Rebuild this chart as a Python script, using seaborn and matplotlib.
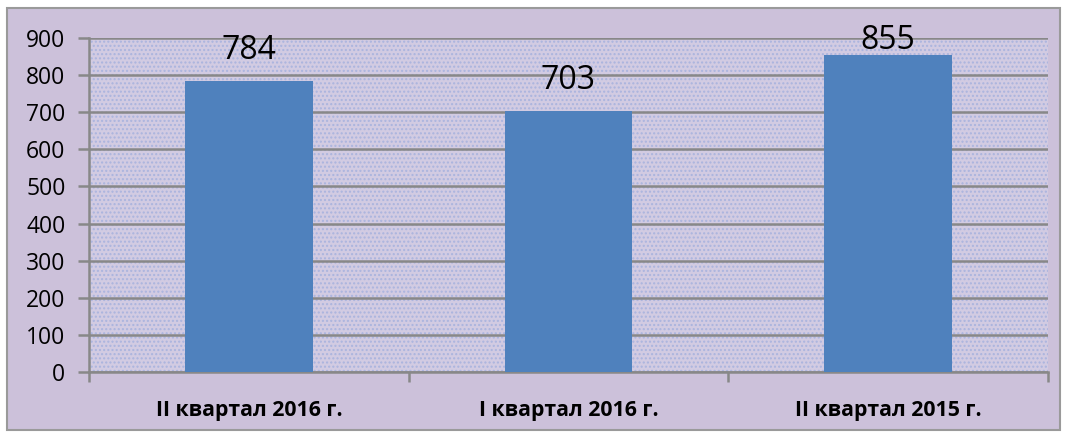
import numpy as np
import pandas as pd
import matplotlib
matplotlib.use("Agg")
import matplotlib.pyplot as plt
import seaborn as sns
from matplotlib.patches import Rectangle

# --- データ ---
categories = ["II квартал 2016 г.", "I квартал 2016 г.", "II квартал 2015 г."]
values = [784, 703, 855]
y_ticks = [0, 100, 200, 300, 400, 500, 600, 700, 800, 900]

df = pd.DataFrame({"period": categories, "value": values})

sns.set_style("white")
plt.rcParams["font.family"] = ["Open Sans", "DejaVu Sans"]
plt.rcParams["hatch.linewidth"] = 1.0

fig = plt.figure(figsize=(10.65, 4.36), dpi=100, facecolor="white")
# outer frame (lavender chart area)
frame = Rectangle((7 / 1065, 1 - 430 / 436), 1053 / 1065, 422 / 436,
                  transform=fig.transFigure, facecolor="#CCC1DA",
                  edgecolor="#9A9A9A", linewidth=1.5, zorder=-10)
fig.add_artist(frame)

ax = fig.add_axes([89 / 1065, 1 - 372 / 436, 959 / 1065, 334 / 436])
ax.set_facecolor("#D2CBE2")
ax.patch.set_hatch("....")
ax.patch.set_edgecolor("#AAB4DE")
ax.patch.set_linewidth(0)

sns.barplot(data=df, x="period", y="value", color="#4F81BD", width=0.4,
            saturation=1, linewidth=0, ax=ax, zorder=3)

ax.set_ylim(0, 900)
ax.set_xlim(-0.5, len(categories) - 0.5)
ax.set_yticks(y_ticks)
ax.yaxis.grid(True, color="#888888", linewidth=1.8, zorder=1)
ax.set_axisbelow(True)

for s in ["top", "right"]:
    ax.spines[s].set_visible(False)
for s in ["left", "bottom"]:
    ax.spines[s].set_color("#888888")
    ax.spines[s].set_linewidth(1.8)

ax.tick_params(axis="y", left=True, length=8, width=1.8, color="#888888",
               labelsize=16.5, labelcolor="black", pad=9)
ax.tick_params(axis="x", which="major", bottom=False, length=0, labelsize=15.3,
               labelcolor="black", pad=20)
for lbl in ax.get_xticklabels():
    lbl.set_fontweight("bold")

# Excel-style category boundary ticks
ax.set_xticks(np.arange(-0.5, len(categories) + 0.5, 1), minor=True)
ax.tick_params(axis="x", which="minor", bottom=True, length=7, width=1.8,
               color="#888888", direction="out")

ax.set_xlabel("")
ax.set_ylabel("")

for i, v in enumerate(values):
    ax.text(i, min(v + 82, 893), str(v), ha="center", va="center", fontsize=23, color="black", zorder=5)

fig.savefig("out.png", dpi=100, facecolor=fig.get_facecolor())
